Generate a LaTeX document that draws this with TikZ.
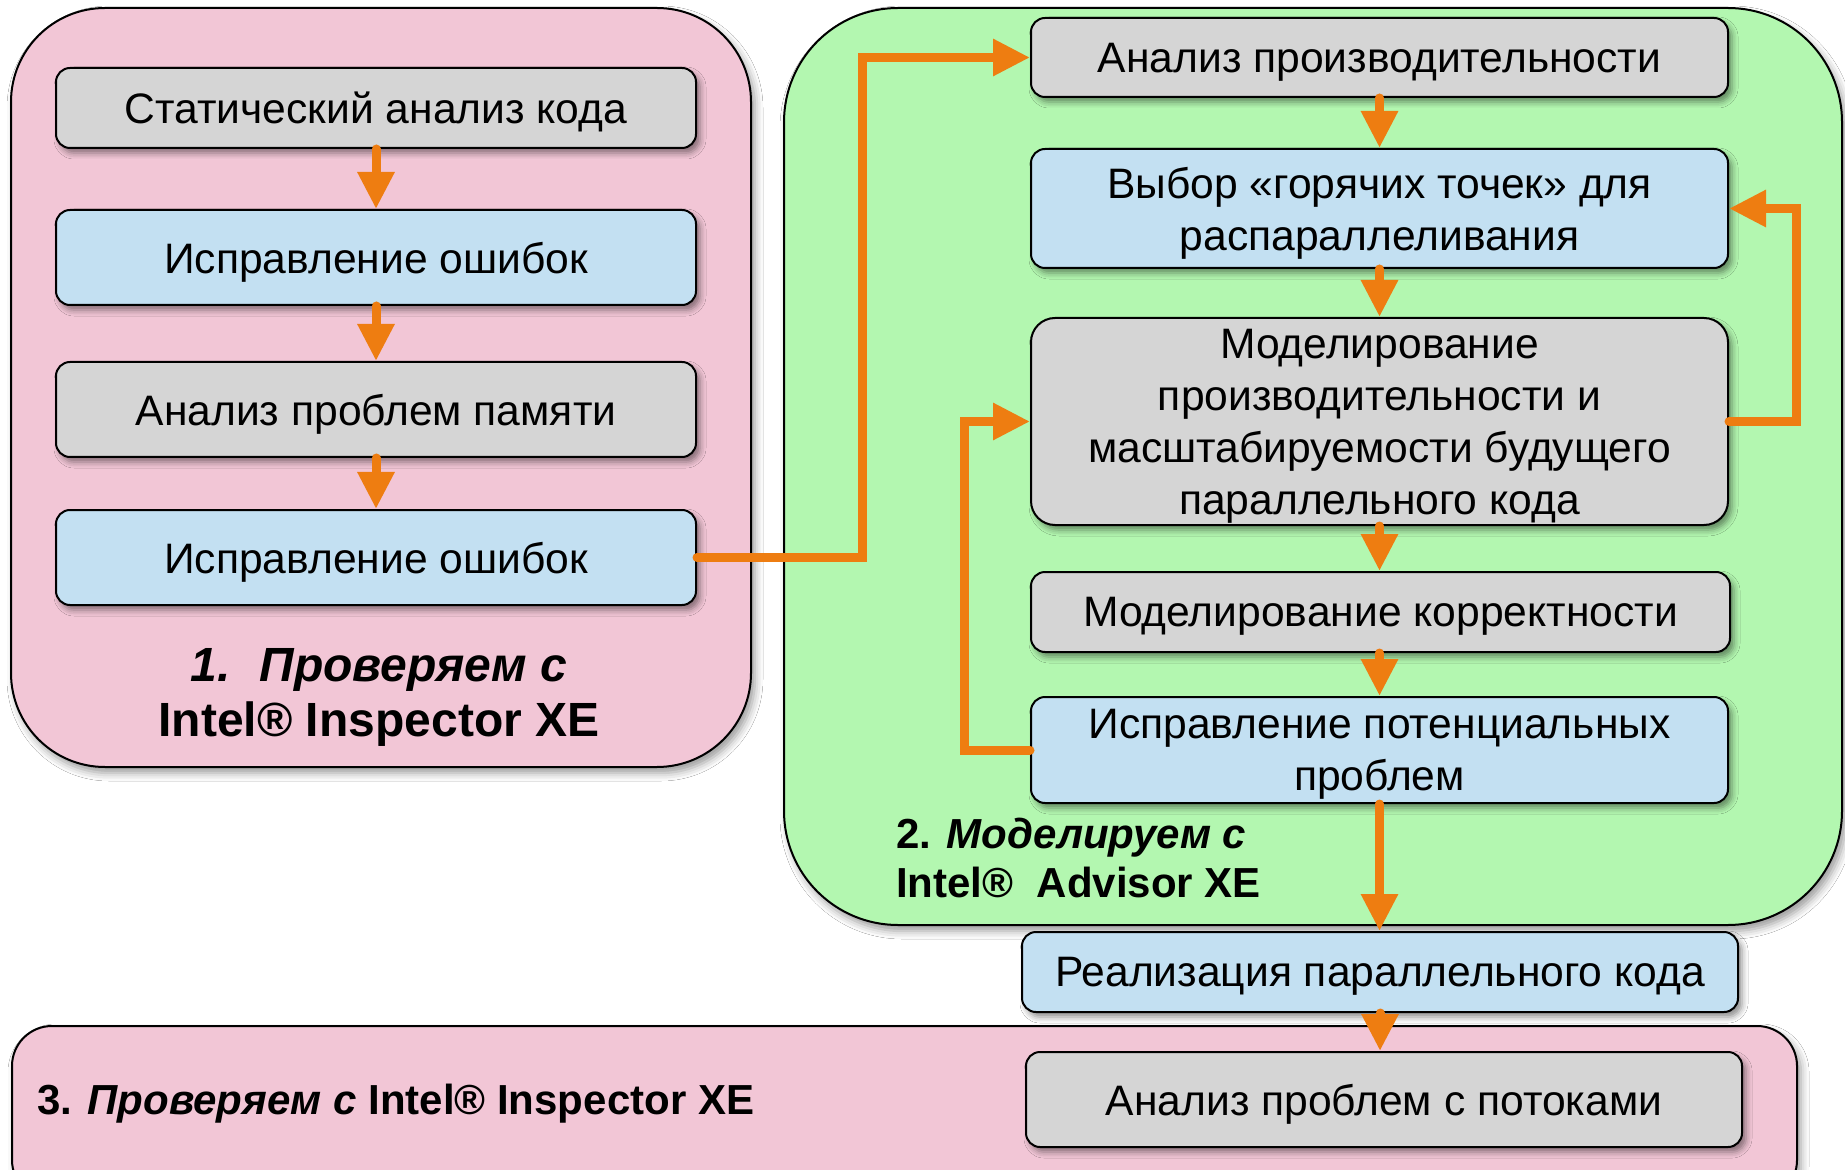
\documentclass[tikz,border=0pt]{standalone}
\usepackage{fontspec}
\setmainfont{Liberation Sans}
\usetikzlibrary{arrows.meta,shadows.blur}
\definecolor{pinkc}{HTML}{F2C6D6}
\definecolor{greenc}{HTML}{B3F7B0}
\definecolor{grayc}{HTML}{D5D5D5}
\definecolor{bluec}{HTML}{C3E0F2}
\definecolor{orangec}{HTML}{EE7D11}
\begin{document}
\begin{tikzpicture}[x=0.5pt,y=-0.5pt,
  base/.style={draw=black, line width=1pt, rounded corners=7pt, align=center, inner sep=0pt,
    font=\fontsize{21.3}{26}\selectfont, text depth=-3pt,
    blur shadow={shadow xshift=2pt, shadow yshift=-2.5pt, shadow blur radius=3pt, shadow opacity=45}},
  graybox/.style={base, fill=grayc},
  bluebox/.style={base, fill=bluec},
  cont/.style={draw=black, line width=1pt, inner sep=0pt,
    blur shadow={shadow xshift=2pt, shadow yshift=-3pt, shadow blur radius=4pt, shadow opacity=40}},
  conn/.style={draw=orangec, line width=4.5pt, line cap=round, -{Triangle[length=18.5pt,width=17.5pt]}}]
\useasboundingbox (0,0) rectangle (1845,1170);
\fill[white] (0,0) rectangle (1845,1170);
\clip (0,0) rectangle (1845,1170);

% containers
\node[cont, fill=pinkc, rounded corners=47pt, minimum width=370pt, minimum height=379.5pt] (g1) at (381,387.5) {};
\node[cont, fill=greenc, rounded corners=57pt, minimum width=529pt, minimum height=458.5pt] (g2) at (1313,466.5) {};
\node[cont, fill=pinkc, rounded corners=20pt, minimum width=892.5pt, minimum height=87pt] (g3) at (904.5,1113) {};

% left column
\node[graybox, minimum width=320pt, minimum height=40pt] (L1) at (376,108) {Статический анализ кода};
\node[bluebox, minimum width=320pt, minimum height=47.5pt] (L2) at (376,257.5) {Исправление ошибок};
\node[graybox, minimum width=320pt, minimum height=47.5pt] (L3) at (376,409.5) {Анализ проблем памяти};
\node[bluebox, minimum width=320pt, minimum height=47.5pt] (L4) at (376,557.5) {Исправление ошибок};

% green column
\node[graybox, minimum width=348.5pt, minimum height=39.5pt] (A) at (1379.5,57.5) {Анализ производительности};
\node[bluebox, minimum width=348.5pt, minimum height=59.5pt] (B) at (1379.5,208.5) {Выбор «горячих точек» для\\распараллеливания};
\node[graybox, rounded corners=12pt, minimum width=348.5pt, minimum height=103.5pt] (C) at (1379.5,421.5) {Моделирование\\производительности и\\масштабируемости будущего\\параллельного кода};
\node[graybox, minimum width=349.5pt, minimum height=40pt] (D) at (1380.5,612) {Моделирование корректности};
\node[bluebox, minimum width=348.5pt, minimum height=53pt] (E) at (1379.5,750) {Исправление потенциальных\\проблем};
\node[bluebox, minimum width=358pt, minimum height=40pt] (F) at (1380,972) {Реализация параллельного кода};
\node[graybox, minimum width=358pt, minimum height=47.5pt] (G) at (1384,1099.5) {Анализ проблем с потоками};

% labels
\node[align=center, font=\bfseries\itshape\fontsize{24}{27.5}\selectfont] (t1) at (379,697) {1.\hspace{0.6em}Проверяем с\\{\upshape Intel® Inspector XE}};
\node[anchor=west, align=left, font=\bfseries\fontsize{21}{24.5}\selectfont] (t2) at (889,858) {2. \textit{Моделируем с}\\Intel®\ \ Advisor XE};
\node[anchor=west, font=\bfseries\fontsize{21}{26}\selectfont] (t3) at (30,1104) {3. \textit{Проверяем с} Intel® Inspector XE};

% connectors
\coordinate (k1) at (862,557.5);
\coordinate (k2) at (1796,421.5);
\coordinate (k3) at (964,750);
\draw[conn] (L1.south) -- (L2.north);
\draw[conn] (L2.south) -- (L3.north);
\draw[conn] (L3.south) -- (L4.north);
\draw[conn] (L4.east) -- (k1) |- (A.west);
\draw[conn] (A.south) -- (B.north);
\draw[conn] (B.south) -- (C.north);
\draw[conn] (C.south) -- (C.south |- D.north);
\draw[conn] (D.south -| E.south) -- (E.north);
\draw[conn] (C.east) -- (k2) |- (B.east);
\draw[conn] (E.west) -- (k3) |- (C.west);
\draw[conn] (E.south) -- (E.south |- F.north);
\draw[conn] (F.south) -- (F.south |- G.north);
\end{tikzpicture}
\end{document}
